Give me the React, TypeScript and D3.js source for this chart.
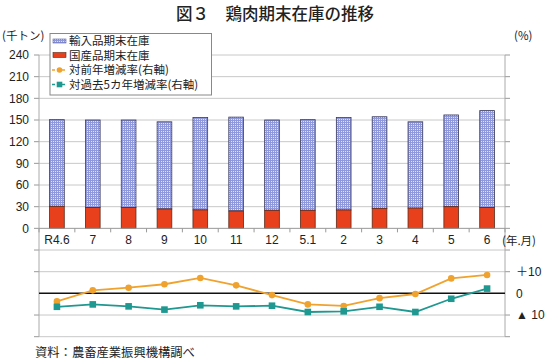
import React from 'react'
import * as d3 from 'd3'

const months = ['R4.6', '7', '8', '9', '10', '11', '12', '5.1', '2', '3', '4', '5', '6']
const domestic = [30.5, 29, 29, 26.8, 25.5, 24, 25, 25, 25.4, 27.7, 28, 30, 29]
const total = [150.5, 150, 150, 147.5, 153.5, 154, 150, 150.5, 153.5, 154.5, 147.5, 157, 163]
const imported = total.map((t, i) => t - domestic[i])
const yoy = [-3.7, 1.4, 2.6, 4.2, 7.1, 3.7, -0.8, -5.1, -5.8, -2.2, -0.3, 6.9, 8.5]
const fiveYear = [-6.2, -5.1, -6.0, -7.5, -5.5, -6.0, -5.7, -8.6, -8.3, -6.2, -8.6, -2.5, 2.2]
const leftTicks = [0, 30, 60, 90, 120, 150, 180, 210, 240]
const rightTicks = [{v: 10, t: '＋10'}, {v: 0, t: '0'}, {v: -10, t: '▲ 10'}]

const W = 550
const H = 364
const top = 55
const bottom = 336.7
const left = 39
const right = 505

const FONT = '"Liberation Sans", Arial, "Noto Sans CJK JP", sans-serif'
const JFONT = '"Noto Sans CJK JP", sans-serif'

export default function App() {
  const x = d3.scaleBand().domain(months).range([left, right])
  const yL = d3.scaleLinear().domain([-150, 240]).range([bottom, top])
  const yR = d3.scaleLinear().domain([-20, 110]).range([bottom, top])
  const bw = x.bandwidth() * 0.41
  const cx = (m) => x(m) + x.bandwidth() / 2

  const line = (vals) => d3.line().x((d, i) => cx(months[i])).y(d => yR(d))(vals)

  const lowerGrid = [20, 10, -10, -20]
  const orange = '#F0A22E'
  const teal = '#1E9890'

  return (
    <svg width={W} height={H} style={{position: 'absolute', left: 0, top: 0, background: '#fff'}}>
      <defs>
        <pattern id="grid" width="2" height="2" patternUnits="userSpaceOnUse">
          <rect width="2" height="2" fill="#dfe2f8" />
          <rect width="1" height="2" fill="#8f98dc" />
          <rect width="2" height="1" fill="#8f98dc" />
        </pattern>
      </defs>
      <text x={275} y={19.5} textAnchor="middle" fontSize={16.5} fontWeight={500} fontFamily={JFONT} fill="#222">図３　鶏肉期末在庫の推移</text>
      <text x={2} y={40} fontSize={11.5} fontFamily={JFONT} fill="#222">(千トン)</text>
      <text x={514} y={40} fontSize={11.5} fontFamily={JFONT} fill="#222">(%)</text>

      {/* upper gridlines */}
      {leftTicks.map(t => (
        <g key={t}>
          {t !== 0 && <line x1={left} x2={right} y1={yL(t)} y2={yL(t)} stroke="#c8c8c8" />}
          <line x1={left - 5} x2={left} y1={yL(t)} y2={yL(t)} stroke="#999" />
          <line x1={right} x2={right + 5} y1={yL(t)} y2={yL(t)} stroke="#999" />
          <text x={29} y={yL(t)} dy="0.35em" textAnchor="end" fontSize={12} fontFamily={FONT} fill="#222">{t}</text>
        </g>
      ))}
      {/* lower gridlines */}
      {lowerGrid.map(t => (
        <g key={t}>
          <line x1={left} x2={right} y1={yR(t)} y2={yR(t)} stroke="#c8c8c8" />
          <line x1={left - 5} x2={left} y1={yR(t)} y2={yR(t)} stroke="#999" />
          <line x1={right} x2={right + 5} y1={yR(t)} y2={yR(t)} stroke="#999" />
        </g>
      ))}
      <line x1={left} x2={left} y1={top} y2={bottom} stroke="#aaa" />
      <line x1={right} x2={right} y1={top} y2={bottom} stroke="#aaa" />

      {/* bars */}
      {months.map((m, i) => (
        <g key={m}>
          <rect x={cx(m) - bw / 2} y={yL(domestic[i] + imported[i])} width={bw} height={yL(domestic[i]) - yL(domestic[i] + imported[i])}
            fill="url(#grid)" stroke="#3a3a5a" strokeWidth={0.8} />
          <rect x={cx(m) - bw / 2} y={yL(domestic[i])} width={bw} height={yL(0) - yL(domestic[i])}
            fill="#E8401C" stroke="#5a2a1a" strokeWidth={0.8} />
        </g>
      ))}

      {/* category axis */}
      <line x1={left} x2={right} y1={yL(0)} y2={yL(0)} stroke="#999" />
      {months.map((m, i) => (
        <g key={'t' + m}>
          <line x1={x(m)} x2={x(m)} y1={yL(0)} y2={yL(0) + 4} stroke="#999" />
          <text x={cx(m)} y={240} dy="0.35em" textAnchor="middle" fontSize={12} fontFamily={FONT} fill="#222">{m}</text>
        </g>
      ))}
      <line x1={right} x2={right} y1={yL(0)} y2={yL(0) + 4} stroke="#999" />
      <text x={502} y={241} dy="0.35em" fontSize={11.5} fontFamily={JFONT} fill="#222">(年.月)</text>

      {/* zero line for rates */}
      <line x1={left} x2={right} y1={yR(0)} y2={yR(0)} stroke="#111" strokeWidth={1.5} />
      {rightTicks.map(r => (
        <text key={r.v} x={516} y={yR(r.v)} dy="0.35em" fontSize={12} fontFamily={FONT} fill="#222">{r.t}</text>
      ))}

      {/* lines */}
      <path d={line(yoy)} fill="none" stroke={orange} strokeWidth={1.8} />
      {yoy.map((v, i) => <circle key={'o' + i} cx={cx(months[i])} cy={yR(v)} r={3.3} fill={orange} />)}
      <path d={line(fiveYear)} fill="none" stroke={teal} strokeWidth={1.8} />
      {fiveYear.map((v, i) => <rect key={'s' + i} x={cx(months[i]) - 3.3} y={yR(v) - 3.3} width={6.6} height={6.6} fill={teal} />)}

      {/* legend */}
      <g>
        <rect x={50} y={33.5} width={161.5} height={61.5} fill="#fff" stroke="#888" />
        <rect x={53} y={39} width={13} height={4} fill="url(#grid)" stroke="#5a60a0" strokeWidth={0.6} />
        <text x={69} y={41} dy="0.35em" fontSize={11.5} fontFamily={JFONT} fill="#222">輸入品期末在庫</text>
        <rect x={53} y={52.5} width={13} height={5} fill="#E8401C" stroke="#5a2a1a" strokeWidth={0.6} />
        <text x={69} y={55.5} dy="0.35em" fontSize={11.5} fontFamily={JFONT} fill="#222">国産品期末在庫</text>
        <line x1={52} x2={67} y1={70} y2={70} stroke={orange} strokeWidth={1.5} strokeDasharray="3,2" />
        <circle cx={59.5} cy={70} r={2.8} fill={orange} />
        <text x={69} y={70} dy="0.35em" fontSize={11.5} fontFamily={JFONT} fill="#222">対前年増減率(右軸)</text>
        <line x1={52} x2={67} y1={84.5} y2={84.5} stroke={teal} strokeWidth={1.5} strokeDasharray="3,2" />
        <rect x={56.7} y={81.7} width={5.6} height={5.6} fill={teal} />
        <text x={69} y={84.5} dy="0.35em" fontSize={11.5} fontFamily={JFONT} fill="#222">対過去5カ年増減率(右軸)</text>
      </g>

      <text x={35} y={353} dy="0.35em" fontSize={12.3} fontFamily={JFONT} fill="#222">資料：農畜産業振興機構調べ</text>
    </svg>
  )
}
